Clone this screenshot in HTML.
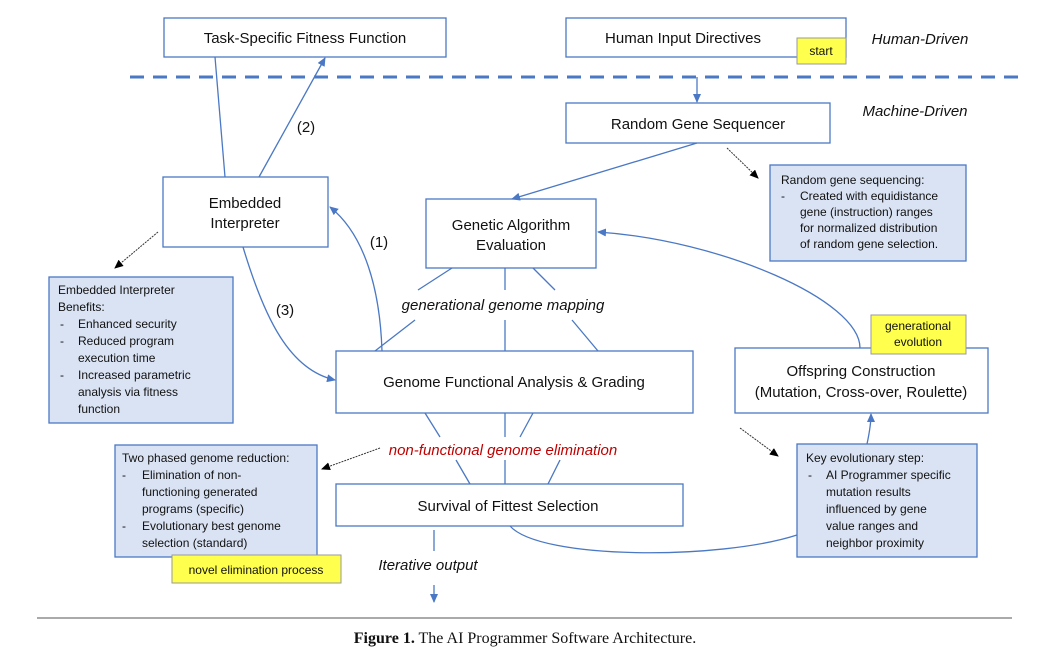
<!DOCTYPE html>
<html><head><meta charset="utf-8"><style>
body{margin:0;background:#fff;}
svg{display:block;font-family:"Liberation Sans",sans-serif;}
</style></head><body>
<svg width="1049" height="661" viewBox="0 0 1049 661" xmlns="http://www.w3.org/2000/svg">
<defs>
<marker id="ab" markerWidth="10" markerHeight="10" refX="8" refY="4" orient="auto" markerUnits="userSpaceOnUse"><path d="M0,0 L9,4 L0,8 z" fill="#4a78c4"/></marker>
<marker id="ak" markerWidth="10" markerHeight="10" refX="8" refY="4" orient="auto" markerUnits="userSpaceOnUse"><path d="M0,0 L9,4 L0,8 z" fill="#000"/></marker>
</defs>
<g stroke="#4a78c4" stroke-width="1.3" fill="#fff">
<rect x="164" y="18" width="282" height="39"/>
<rect x="566" y="18" width="280" height="39"/>
<rect x="566" y="103" width="264" height="40"/>
<rect x="163" y="177" width="165" height="70"/>
<rect x="426" y="199" width="170" height="69"/>
<rect x="336" y="351" width="357" height="62"/>
<rect x="735" y="348" width="253" height="65"/>
<rect x="336" y="484" width="347" height="42"/>
<rect x="770" y="165" width="196" height="96" fill="#dae3f3"/>
<rect x="49" y="277" width="184" height="146" fill="#dae3f3"/>
<rect x="115" y="445" width="202" height="112" fill="#dae3f3"/>
<rect x="797" y="444" width="180" height="113" fill="#dae3f3"/>
</g>
<g stroke="#999" stroke-width="1" fill="#ffff4d">
<rect x="797" y="38" width="49" height="26"/>
<rect x="871" y="315" width="95" height="39"/>
<rect x="172" y="555" width="169" height="28"/>
</g>
<line x1="130" y1="77" x2="1020" y2="77" stroke="#4a78c4" stroke-width="3" stroke-dasharray="14,9"/>
<g stroke="#4a78c4" stroke-width="1.3" fill="none">
<line x1="697" y1="77" x2="697" y2="102" marker-end="url(#ab)"/>
<line x1="215" y1="57" x2="225" y2="177"/>
<line x1="259" y1="177" x2="325" y2="58" marker-end="url(#ab)"/>
<path d="M382,351 C380,290 365,235 330,207" marker-end="url(#ab)"/>
<path d="M243,247 C265,320 290,370 335,380" marker-end="url(#ab)"/>
<line x1="697" y1="143" x2="512" y2="199" marker-end="url(#ab)"/>
<path d="M860,348 C860,300 720,240 598,232" marker-end="url(#ab)"/>
<path d="M510,526 C540,560 720,560 797,535"/>
<path d="M867,444 C870,430 871,422 871,414" marker-end="url(#ab)"/>
<line x1="452" y1="268" x2="418" y2="290"/><line x1="505" y1="268" x2="505" y2="290"/><line x1="533" y1="268" x2="555" y2="290"/>
<line x1="415" y1="320" x2="375" y2="351"/><line x1="505" y1="320" x2="505" y2="351"/><line x1="572" y1="320" x2="598" y2="351"/>
<line x1="425" y1="413" x2="440" y2="437"/><line x1="505" y1="413" x2="505" y2="437"/><line x1="533" y1="413" x2="520" y2="437"/>
<line x1="456" y1="460" x2="470" y2="484"/><line x1="505" y1="460" x2="505" y2="484"/><line x1="560" y1="460" x2="548" y2="484"/>
<line x1="434" y1="530" x2="434" y2="551"/>
<line x1="434" y1="585" x2="434" y2="602" marker-end="url(#ab)"/>
</g>
<g stroke="#333" stroke-width="1" stroke-dasharray="2,1" fill="none">
<line x1="740" y1="428" x2="778" y2="456" marker-end="url(#ak)"/>
<line x1="727" y1="148" x2="758" y2="178" marker-end="url(#ak)"/>
<line x1="158" y1="232" x2="115" y2="268" marker-end="url(#ak)"/>
<line x1="380" y1="448" x2="322" y2="469" marker-end="url(#ak)"/>
</g>
<g font-size="15" fill="#111" text-anchor="middle">
<text x="305" y="43">Task-Specific Fitness Function</text>
<text x="683" y="43">Human Input Directives</text>
<text x="698" y="129">Random Gene Sequencer</text>
<text x="245" y="208">Embedded</text><text x="245" y="228">Interpreter</text>
<text x="511" y="230">Genetic Algorithm</text><text x="511" y="250">Evaluation</text>
<text x="514" y="387">Genome Functional Analysis &amp; Grading</text>
<text x="861" y="376">Offspring Construction</text>
<text x="861" y="397">(Mutation, Cross-over, Roulette)</text>
<text x="508" y="511">Survival of Fittest Selection</text>
<text x="306" y="132">(2)</text><text x="379" y="247">(1)</text><text x="285" y="315">(3)</text>
</g>
<g font-size="15" font-style="italic" fill="#111" text-anchor="middle">
<text x="920" y="44">Human-Driven</text>
<text x="915" y="116">Machine-Driven</text>
<text x="503" y="310">generational genome mapping</text>
<text x="503" y="455" fill="#c00000">non-functional genome elimination</text>
<text x="428" y="570">Iterative output</text>
</g>
<g font-size="12" fill="#111">
<text x="821" y="55" text-anchor="middle">start</text>
<text x="918" y="330" text-anchor="middle">generational</text>
<text x="918" y="346" text-anchor="middle">evolution</text>
<text x="256" y="574" text-anchor="middle">novel elimination process</text>
<text x="781" y="184">Random gene sequencing:</text>
<text x="781" y="200">-</text><text x="800" y="200">Created with equidistance</text>
<text x="800" y="216">gene (instruction) ranges</text>
<text x="800" y="232">for normalized distribution</text>
<text x="800" y="248">of random gene selection.</text>
<text x="58" y="294">Embedded Interpreter</text>
<text x="58" y="311">Benefits:</text>
<text x="60" y="328">-</text><text x="78" y="328">Enhanced security</text>
<text x="60" y="345">-</text><text x="78" y="345">Reduced program</text>
<text x="78" y="362">execution time</text>
<text x="60" y="379">-</text><text x="78" y="379">Increased parametric</text>
<text x="78" y="396">analysis via fitness</text>
<text x="78" y="413">function</text>
<text x="122" y="462">Two phased genome reduction:</text>
<text x="122" y="479">-</text><text x="142" y="479">Elimination of non-</text>
<text x="142" y="496">functioning generated</text>
<text x="142" y="513">programs (specific)</text>
<text x="122" y="530">-</text><text x="142" y="530">Evolutionary best genome</text>
<text x="142" y="547">selection (standard)</text>
<text x="806" y="462">Key evolutionary step:</text>
<text x="808" y="479">-</text><text x="826" y="479">AI Programmer specific</text>
<text x="826" y="496">mutation results</text>
<text x="826" y="513">influenced by gene</text>
<text x="826" y="530">value ranges and</text>
<text x="826" y="547">neighbor proximity</text>
</g>
<line x1="37" y1="618" x2="1012" y2="618" stroke="#555" stroke-width="1"/>
<text x="525" y="643" text-anchor="middle" font-family="Liberation Serif,serif" font-size="16" fill="#111"><tspan font-weight="bold">Figure 1.</tspan>  The AI Programmer Software Architecture.</text>
</svg>
</body></html>
